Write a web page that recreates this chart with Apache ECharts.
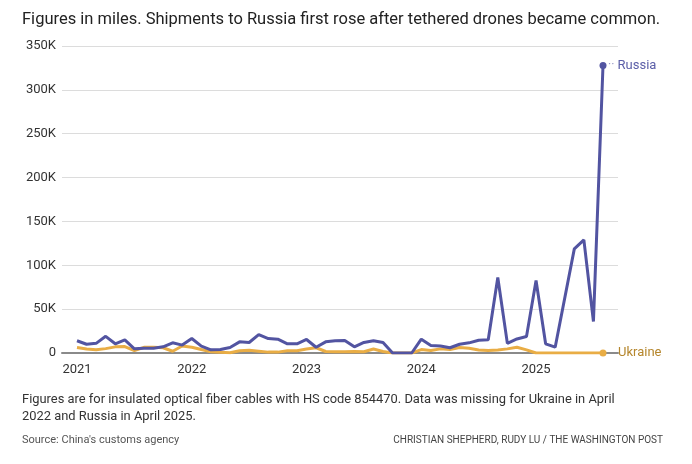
<!DOCTYPE html>
<html>
<head>
<meta charset="utf-8">
<script src="https://cdn.jsdelivr.net/npm/echarts@6/dist/echarts.min.js"></script>
<style>
  html, body { margin: 0; padding: 0; background: #fff; }
  #chart { width: 692px; height: 464px; }
</style>
</head>
<body>
<div id="chart"></div>
<script>
// monthly shipments, miles, Jan 2021 - Aug 2025
var months = [];
for (var y = 2021; y <= 2025; y++) {
  for (var m = 1; m <= 12; m++) {
    if (y === 2025 && m > 8) break;
    months.push(y + '-' + (m < 10 ? '0' + m : m));
  }
}

var russia = [
  14000, 10000, 11000, 19000, 10500, 15000, 4800, 5500, 5500, 7000, 11600, 9000,
  16500, 7800, 3600, 3900, 6300, 12700, 12000, 21000, 16500, 15700, 10500, 10500,
  15400, 6600, 12700, 14000, 14300, 7000, 12000, 14000, 12000, 0, 0, 0,
  15700, 8500, 8000, 6000, 10000, 11600, 14600, 15000, 86000, 11000, 16000, 18800,
  82600, 10500, 6600, null, 118700, 129000, 35900, 327800
];

var ukraine = [
  6300, 4500, 3600, 5000, 7000, 7300, 2800, 6500, 6600, 6000, 2000, 8000,
  6600, 4000, 1500, null, 300, 2500, 3000, 2000, 1000, 1000, 2500, 2500,
  4500, 6000, 1700, 1500, 1500, 1700, 1500, 4500, 1700, 0, 0, 0,
  3900, 2800, 4700, 3900, 6200, 5400, 3500, 2800, 3500, 4700, 6600, 3600,
  0, 0, 0, 0, 0, 0, 0, 0
];

var yTicks = [0, 50000, 100000, 150000, 200000, 250000, 300000, 350000];

var FONT = 'Roboto, "Liberation Sans", sans-serif';
var last = months.length - 1;
var yMin = yTicks[0], yMax = yTicks[yTicks.length - 1];

function endDot(value, params) {
  return params.dataIndex === last ? 7 : 0;
}

var chart = echarts.init(document.getElementById('chart'));

var option = {
  backgroundColor: '#fff',
  animation: false,
  title: {
    text: 'Figures in miles. Shipments to Russia first rose after tethered drones became common.',
    left: 17,
    top: 6,
    textStyle: { fontFamily: FONT, fontSize: 16.5, fontWeight: 'normal', color: '#222' }
  },
  // grid 0 = gridlines + baseline, grid 1 = the data (inset a bit on both sides)
  grid: [
    { left: 62, right: 74, top: 46, bottom: 111 },
    { left: 77, right: 89, top: 46, bottom: 111 }
  ],
  xAxis: [
    {
      gridIndex: 0,
      type: 'category',
      data: months,
      boundaryGap: false,
      axisTick: { show: false },
      axisLabel: { show: false },
      axisLine: { lineStyle: { color: '#8a8a8a', width: 2 } },
      splitLine: { show: false }
    },
    {
      gridIndex: 1,
      type: 'category',
      data: months,
      boundaryGap: false,
      axisTick: { show: false },
      axisLine: { show: false },
      axisLabel: {
        interval: function (i) { return i % 12 === 0; },
        formatter: function (v) { return v.slice(0, 4); },
        fontFamily: FONT,
        fontSize: 13,
        color: '#333',
        margin: 10
      },
      splitLine: { show: false }
    }
  ],
  yAxis: [
    {
      gridIndex: 0,
      type: 'value',
      min: yMin,
      max: yMax,
      interval: 50000,
      axisLine: { show: false },
      axisTick: { show: false },
      axisLabel: {
        formatter: function (v) { return v === 0 ? '0' : (v / 1000) + 'K'; },
        fontFamily: FONT,
        fontSize: 13,
        color: '#333',
        margin: 6
      },
      splitLine: { lineStyle: { color: '#dcdcdc', width: 1 } }
    },
    {
      gridIndex: 1,
      type: 'value',
      min: yMin,
      max: yMax,
      interval: 50000,
      show: false
    }
  ],
  series: [
    {
      name: 'Ukraine',
      type: 'line',
      xAxisIndex: 1,
      yAxisIndex: 1,
      data: ukraine,
      connectNulls: true,
      symbol: 'circle',
      symbolSize: endDot,
      showAllSymbol: true,
      lineStyle: { color: '#e9ad45', width: 3 },
      itemStyle: { color: '#e9ad45' },
      endLabel: {
        show: true,
        distance: 15,
        formatter: 'Ukraine',
        fontFamily: FONT,
        fontSize: 13,
        color: '#b5862c'
      },
      z: 2
    },
    {
      name: 'Russia',
      type: 'line',
      xAxisIndex: 1,
      yAxisIndex: 1,
      data: russia,
      connectNulls: true,
      symbol: 'circle',
      symbolSize: endDot,
      showAllSymbol: true,
      lineStyle: { color: '#5254a1', width: 3 },
      itemStyle: { color: '#5254a1' },
      endLabel: {
        show: true,
        distance: 5,
        formatter: '{d|··} {n|Russia}',
        rich: {
          d: { color: '#9a9bc8', fontSize: 12, fontFamily: FONT },
          n: { color: '#5b5ea8', fontSize: 13, fontFamily: FONT }
        }
      },
      z: 3
    }
  ],
  graphic: [
    {
      type: 'text',
      left: 22,
      top: 391,
      style: {
        text: 'Figures are for insulated optical fiber cables with HS code 854470. Data was missing for Ukraine in April\n2022 and Russia in April 2025.',
        font: '12.9px ' + FONT,
        fill: '#333',
        lineHeight: 17
      }
    },
    {
      type: 'text',
      left: 22,
      top: 435,
      style: { text: "Source: China's customs agency", font: '11px ' + FONT, fill: '#555' }
    },
    {
      type: 'text',
      right: 29,
      top: 435,
      style: {
        text: 'CHRISTIAN SHEPHERD, RUDY LU / THE WASHINGTON POST',
        font: '10px "Liberation Sans Narrow", ' + FONT,
        fill: '#444'
      }
    }
  ]
};

chart.setOption(option);
</script>
</body>
</html>
